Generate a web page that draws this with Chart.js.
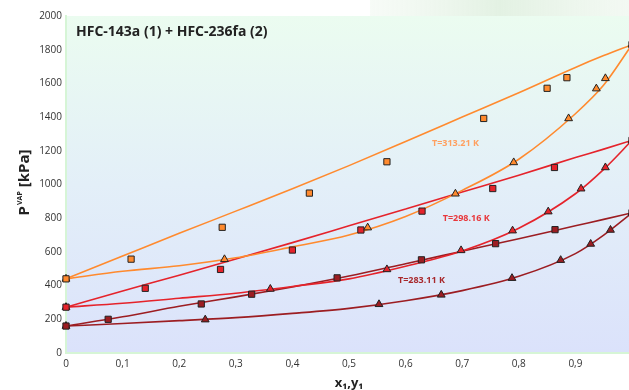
<!DOCTYPE html>
<html>
<head>
<meta charset="utf-8">
<script src="https://cdn.jsdelivr.net/npm/chart.js@4.4.1/dist/chart.umd.min.js"></script>
<style>
  html, body { margin: 0; padding: 0; background: #fff; }
  #wrap { width: 629px; height: 390px; }
</style>
</head>
<body>
<div id="wrap"><canvas id="myChart" width="629" height="390"></canvas></div>
<script>
// x grid used by the model curves
const curveX = [0, 0.1, 0.2, 0.3, 0.4, 0.5, 0.6, 0.7, 0.8, 0.9, 0.95, 1.0];

// T=313.21 K
const bubble313 = [440, 575, 710, 842, 975, 1112, 1255, 1400, 1545, 1695, 1765, 1830];
const dew313    = [440, 485, 518, 565, 630, 700, 810, 965, 1150, 1420, 1590, 1830];
const liqX313 = [0, 0.115, 0.276, 0.430, 0.567, 0.738, 0.850, 0.885, 1.0];
const liqP313 = [440, 557, 746, 949, 1135, 1392, 1571, 1634, 1830];
const vapX313 = [0, 0.280, 0.533, 0.688, 0.791, 0.888, 0.937, 0.953, 1.0];
const vapP313 = [440, 556, 744, 945, 1131, 1392, 1569, 1630, 1830];

// T=298.16 K
const bubble298 = [272, 368, 462, 558, 655, 755, 855, 955, 1055, 1160, 1210, 1262];
const dew298    = [272, 295, 325, 355, 395, 440, 515, 605, 740, 945, 1090, 1262];
const liqX298 = [0, 0.140, 0.273, 0.400, 0.521, 0.629, 0.754, 0.863, 1.0];
const liqP298 = [272, 384, 496, 611, 730, 842, 976, 1101, 1262];
const vapX298 = [0, 0.361, 0.567, 0.698, 0.789, 0.852, 0.910, 0.953, 1.0];
const vapP298 = [272, 380, 496, 609, 726, 839, 975, 1101, 1262];

// T=283.11 K
const bubble283 = [160, 215, 277, 333, 392, 457, 530, 604, 678, 755, 793, 832];
const dew283    = [160, 175, 192, 210, 235, 265, 310, 370, 455, 590, 700, 832];
const liqX283 = [0, 0.0745, 0.239, 0.328, 0.479, 0.628, 0.759, 0.864, 1.0];
const liqP283 = [160, 200, 291, 349, 446, 553, 649, 732, 832];
const vapX283 = [0, 0.246, 0.553, 0.663, 0.788, 0.874, 0.927, 0.962, 1.0];
const vapP283 = [160, 198, 289, 345, 444, 551, 647, 730, 832];

const COLORS = {
  orange: '#ff8a2e',
  red: '#e5232b',
  darkred: '#9c1d22'
};

function pts(xs, ys) {
  return xs.map((x, i) => ({ x: x, y: ys[i] }));
}

function curve(ys, color) {
  return {
    data: pts(curveX, ys),
    showLine: true,
    borderColor: color,
    borderWidth: 1.6,
    pointRadius: 0,
    cubicInterpolationMode: 'monotone',
    order: 2
  };
}

function markers(xs, ys, color, style) {
  return {
    data: pts(xs, ys),
    showLine: false,
    pointStyle: style,
    pointRadius: style === 'rect' ? 4.4 : 4.5,
    backgroundColor: color,
    borderColor: '#222',
    borderWidth: 1,
    order: 1
  };
}

const data = {
  datasets: [
    curve(bubble313, COLORS.orange),
    curve(dew313, COLORS.orange),
    curve(bubble298, COLORS.red),
    curve(dew298, COLORS.red),
    curve(bubble283, COLORS.darkred),
    curve(dew283, COLORS.darkred),
    markers(liqX313, liqP313, COLORS.orange, 'rect'),
    markers(vapX313, vapP313, COLORS.orange, 'triangle'),
    markers(liqX298, liqP298, COLORS.red, 'rect'),
    markers(vapX298, vapP298, COLORS.red, 'triangle'),
    markers(liqX283, liqP283, COLORS.darkred, 'rect'),
    markers(vapX283, vapP283, COLORS.darkred, 'triangle')
  ]
};

// temperature labels, in data coordinates
const tempLabels = [
  { text: 'T=313.21 K', x: 0.688, y: 1243, color: '#ffa060' },
  { text: 'T=298.16 K', x: 0.707, y: 796, color: '#e8383c' },
  { text: 'T=283.11 K', x: 0.628, y: 428, color: '#a8282c' }
];

const decor = {
  id: 'decor',
  beforeDraw(chart) {
    const { ctx, chartArea: a } = chart;
    ctx.save();
    // faint strip top right
    const s = ctx.createLinearGradient(370, 0, 629, 0);
    s.addColorStop(0, 'rgba(235,245,235,0.4)');
    s.addColorStop(0.5, 'rgba(220,238,220,0.8)');
    s.addColorStop(1, 'rgba(235,245,235,0.6)');
    ctx.fillStyle = s;
    ctx.fillRect(370, 0, 259, a.top);
    const g = ctx.createLinearGradient(0, a.top, 0, a.bottom);
    g.addColorStop(0, '#ebfcf0');
    g.addColorStop(0.5, '#e3eff8');
    g.addColorStop(1, '#dbe2fb');
    ctx.fillStyle = g;
    ctx.fillRect(a.left, a.top, a.right - a.left, a.bottom - a.top);
    ctx.restore();
  },
  afterDraw(chart) {
    const { ctx, chartArea: a, scales } = chart;
    ctx.save();
    // chart title
    ctx.fillStyle = '#222';
    ctx.font = 'bold 14px "Open Sans"';
    ctx.textBaseline = 'middle';
    ctx.textAlign = 'left';
    ctx.fillText('HFC-143a (1) + HFC-236fa (2)', a.left + 10, a.top + 16);

    // temperature labels
    ctx.font = 'bold 9px "Open Sans"';
    ctx.textAlign = 'center';
    tempLabels.forEach(l => {
      ctx.fillStyle = l.color;
      ctx.fillText(l.text, scales.x.getPixelForValue(l.x), scales.y.getPixelForValue(l.y));
    });

    // y axis title with superscript
    ctx.translate(23, 183);
    ctx.rotate(-Math.PI / 2);
    ctx.fillStyle = '#222';
    ctx.textAlign = 'left';
    ctx.textBaseline = 'alphabetic';
    const p1 = 'P', p2 = 'VAP', p3 = ' [kPa]';
    ctx.font = 'bold 15px "Open Sans"';
    const w1 = ctx.measureText(p1).width;
    const w3 = ctx.measureText(p3).width;
    ctx.font = 'bold 7px "Open Sans"';
    const w2 = ctx.measureText(p2).width;
    let x0 = -(w1 + w2 + w3) / 2;
    ctx.font = 'bold 15px "Open Sans"';
    ctx.fillText(p1, x0, 6);
    ctx.font = 'bold 7px "Open Sans"';
    ctx.fillText(p2, x0 + w1 + 1, -1);
    ctx.font = 'bold 15px "Open Sans"';
    ctx.fillText(p3, x0 + w1 + w2 + 1, 6);
    ctx.restore();

    // x axis title
    ctx.save();
    ctx.fillStyle = '#222';
    ctx.font = 'bold 13px "Open Sans"';
    ctx.textAlign = 'center';
    ctx.textBaseline = 'middle';
    ctx.fillText('x\u2081,y\u2081', 349, 383);
    ctx.restore();
  }
};

const config = {
  type: 'scatter',
  data: data,
  options: {
    responsive: false,
    animation: false,
    clip: false,
    layout: { autoPadding: false, padding: { top: 16, right: 0, left: 0, bottom: 0 } },
    plugins: {
      legend: { display: false },
      tooltip: { enabled: false },
      title: { display: false }
    },
    scales: {
      x: {
        type: 'linear',
        min: 0,
        max: 0.9947,
        grid: { display: false, drawTicks: false },
        border: { color: '#d6f5d6', width: 2 },
        ticks: {
          stepSize: 0.1,
          padding: 5,
          color: '#333',
          font: { family: 'Open Sans', size: 10 },
          callback: v => {
            const r = Math.round(v * 10) / 10;
            if (Math.abs(v - r) > 1e-6 || r >= 1) return '';
            return r.toString().replace('.', ',');
          }
        },
        afterFit: s => {
          s.height = 37;
          s.paddingLeft = 0;
          s.paddingRight = 0;
        }
      },
      y: {
        min: 0,
        max: 2000,
        grid: { display: false, drawTicks: false },
        border: { color: '#d6f5d6', width: 2 },
        ticks: {
          stepSize: 200,
          padding: 4,
          color: '#333',
          font: { family: 'Open Sans', size: 10 },
          callback: v => String(v)
        },
        afterFit: s => {
          s.width = 66;
          s.paddingTop = 0;
          s.paddingBottom = 0;
        }
      }
    }
  },
  plugins: [decor]
};

const myChart = new Chart(document.getElementById('myChart'), config);
</script>
</body>
</html>
